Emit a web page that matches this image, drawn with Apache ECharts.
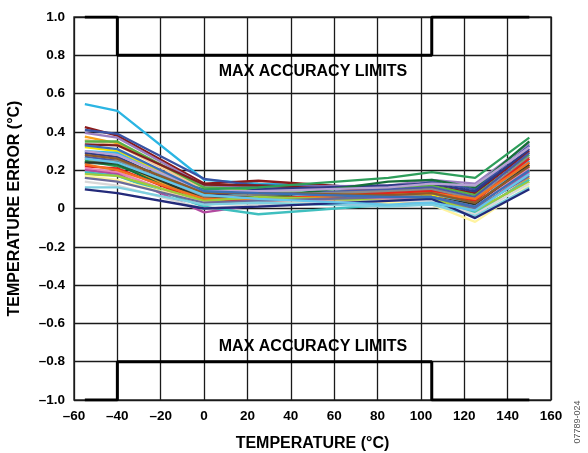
<!DOCTYPE html>
<html><head><meta charset="utf-8">
<script src="https://cdn.jsdelivr.net/npm/echarts@6/dist/echarts.min.js"></script>
<style>html,body{margin:0;padding:0;background:#fff}#c{width:588px;height:453px}</style>
</head><body><div id="c"></div>
<script>
const temps = [-55, -40, 0, 25, 85, 105, 125, 150];
const xTicks = [-60,-40,-20,0,20,40,60,80,100,120,140,160];
const yTicks = [-1.0,-0.8,-0.6,-0.4,-0.2,0,0.2,0.4,0.6,0.8,1.0];
const limitX = [-55, -40, -40, 105, 105, 150];
const limitUpper = [1.0, 1.0, 0.8, 0.8, 1.0, 1.0];
const limitLower = [-1.0, -1.0, -0.8, -0.8, -1.0, -1.0];
const seriesColors = [
 '#2bb5e3','#8b1a1a','#3953a4','#9b7fc0','#f7a21b','#f6c89a','#5bb045','#7d1f1f',
 '#f2e600','#37b6ea','#2e3a87','#4a5aa8','#e0a82e','#2e9e5b','#16703a','#8a8a8a',
 '#2a3a2a','#e3261c','#ea84b8','#b24aa0','#f37021','#3fbfbf','#9ccb3b','#fff3a0',
 '#6a6a9a','#d8d8d8','#7fd0e0','#232a7a','#b8a2d4','#8c5a2b','#66c6ea','#3b6fb6'
];
const seriesValues = [
 [0.545, 0.51, 0.15, 0.13, 0.11, 0.09, 0.03, 0.20],
 [0.425, 0.38, 0.13, 0.145, 0.10, 0.12, 0.08, 0.30],
 [0.41, 0.39, 0.155, 0.12, 0.11, 0.14, 0.10, 0.33],
 [0.395, 0.37, 0.12, 0.11, 0.12, 0.15, 0.13, 0.34],
 [0.375, 0.34, 0.10, 0.09, 0.08, 0.08, 0.00, 0.22],
 [0.36, 0.33, 0.10, 0.09, 0.07, 0.06, -0.01, 0.18],
 [0.35, 0.35, 0.11, 0.10, 0.10, 0.12, 0.07, 0.28],
 [0.335, 0.33, 0.125, 0.12, 0.09, 0.10, 0.05, 0.24],
 [0.32, 0.30, 0.08, 0.09, 0.08, 0.07, -0.02, 0.20],
 [0.30, 0.29, 0.07, 0.08, 0.09, 0.08, 0.02, 0.25],
 [0.29, 0.27, 0.06, 0.10, 0.12, 0.13, 0.09, 0.31],
 [0.27, 0.25, 0.05, 0.07, 0.10, 0.11, 0.06, 0.29],
 [0.26, 0.23, 0.04, 0.06, 0.05, 0.05, -0.03, 0.16],
 [0.25, 0.22, 0.10, 0.11, 0.16, 0.19, 0.16, 0.37],
 [0.24, 0.23, 0.02, 0.05, 0.14, 0.15, 0.11, 0.35],
 [0.235, 0.25, 0.06, 0.07, 0.09, 0.10, 0.05, 0.27],
 [0.24, 0.24, 0.05, 0.06, 0.06, 0.06, 0.02, 0.23],
 [0.22, 0.21, 0.03, 0.05, 0.08, 0.09, 0.04, 0.26],
 [0.21, 0.19, 0.02, 0.04, 0.05, 0.06, 0.01, 0.21],
 [0.20, 0.18, -0.02, 0.02, 0.03, 0.04, -0.01, 0.19],
 [0.23, 0.20, 0.05, 0.05, 0.07, 0.08, 0.05, 0.24],
 [0.19, 0.17, 0.01, -0.03, 0.02, 0.03, -0.02, 0.15],
 [0.18, 0.17, 0.04, 0.06, 0.04, 0.05, -0.01, 0.14],
 [0.17, 0.15, 0.03, 0.03, 0.03, 0.02, -0.07, 0.12],
 [0.16, 0.14, 0.03, 0.04, 0.06, 0.06, 0.00, 0.17],
 [0.14, 0.12, 0.00, 0.02, 0.04, 0.04, -0.03, 0.13],
 [0.11, 0.11, 0.02, 0.03, 0.01, 0.02, -0.04, 0.11],
 [0.10, 0.08, 0.00, 0.01, 0.04, 0.05, -0.05, 0.10],
 [0.30, 0.28, 0.09, 0.09, 0.11, 0.13, 0.12, 0.32],
 [0.28, 0.26, 0.08, 0.08, 0.07, 0.08, 0.03, 0.22],
 [0.26, 0.24, 0.07, 0.05, 0.02, 0.03, -0.01, 0.18],
 [0.33, 0.31, 0.09, 0.08, 0.06, 0.06, 0.01, 0.20]
];
const limitText = 'MAX ACCURACY LIMITS';
const xTitle = 'TEMPERATURE (°C)';
const yTitle = 'TEMPERATURE ERROR (°C)';
const figId = '07789-024';

const FONT = '"Liberation Sans", Arial, sans-serif';
const fmt = v => {
  if (Math.abs(v) < 1e-9) return '0';
  return Number(v).toFixed(1).replace('-', '\u2013');
};
const fmtX = v => String(v).replace('-', '\u2013');

const series = seriesValues.map((vals, i) => ({
  type: 'line', name: 's' + i, symbol: 'none', silent: true, z: 3,
  lineStyle: { width: 2.3, color: seriesColors[i] },
  data: temps.map((t, j) => [t, vals[j]])
}));
series.push({
  type: 'line', symbol: 'none', z: 5, silent: true,
  lineStyle: { width: 3, color: '#000' },
  data: limitX.map((x, i) => [x, limitUpper[i]])
});
series.push({
  type: 'line', symbol: 'none', z: 5, silent: true,
  lineStyle: { width: 3, color: '#000' },
  data: limitX.map((x, i) => [x, limitLower[i]])
});

const chart = echarts.init(document.getElementById('c'), null, { renderer: 'canvas' });
chart.setOption({
  animation: false,
  backgroundColor: '#fff',
  grid: { left: 74, right: 37, top: 17, bottom: 53, outerBoundsMode: 'none', containLabel: false,
          show: true, borderColor: '#333', borderWidth: 1.5 },
  xAxis: {
    type: 'value', min: -60, max: 160, interval: 20,
    axisLine: { show: false }, axisTick: { show: false },
    splitLine: { show: true, lineStyle: { color: '#1a1a1a', width: 1.3 } },
    axisLabel: { formatter: fmtX, color: '#000', fontFamily: FONT, fontWeight: 'bold', fontSize: 13.5, margin: 9 },
    name: xTitle, nameLocation: 'middle', nameGap: 36,
    nameTextStyle: { color: '#000', fontFamily: FONT, fontWeight: 'bold', fontSize: 16 }
  },
  yAxis: {
    type: 'value', min: -1, max: 1, interval: 0.2,
    axisLine: { show: false }, axisTick: { show: false },
    splitLine: { show: true, lineStyle: { color: '#1a1a1a', width: 1.3 } },
    axisLabel: { formatter: fmt, color: '#000', fontFamily: FONT, fontWeight: 'bold', fontSize: 13.5, margin: 9 },
    name: yTitle, nameLocation: 'middle', nameGap: 51, nameRotate: 90,
    nameTextStyle: { color: '#000', fontFamily: FONT, fontWeight: 'bold', fontSize: 16 }
  },
  graphic: [
    { type: 'text', x: 313, y: 72, style: { text: limitText, align: 'center', verticalAlign: 'middle', fill: '#000', font: 'bold 16px ' + FONT }, z: 10 },
    { type: 'text', x: 313, y: 347, style: { text: limitText, align: 'center', verticalAlign: 'middle', fill: '#000', font: 'bold 16px ' + FONT }, z: 10 },
    { type: 'text', x: 578, y: 422, rotation: Math.PI / 2, style: { text: figId, align: 'center', verticalAlign: 'middle', fill: '#555', font: '9px ' + FONT }, z: 10 }
  ],
  series: series
});
</script></body></html>
